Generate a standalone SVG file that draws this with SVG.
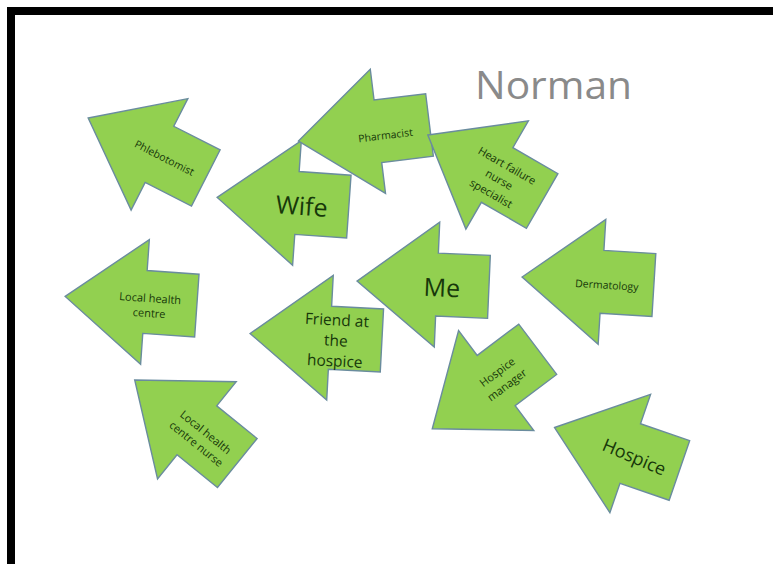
<svg xmlns="http://www.w3.org/2000/svg" xmlns:xlink="http://www.w3.org/1999/xlink" width="773" height="564" viewBox="0 0 773 564">
<style>
.arr{fill:#92d050;stroke:#6a8c9e;stroke-width:1.4;stroke-linejoin:miter}
.t{font-family:"Open Sans","Noto Sans","Liberation Sans",sans-serif;fill:#17380a;text-anchor:middle}
.s{font-size:10.5px}
.title{font-family:"Open Sans","Noto Sans","Liberation Sans",sans-serif;fill:#8a8a8a;font-size:38px}
</style>
<defs>
<path id="arrow" d="M -66 0 L 14 -62.5 L 14 -31.5 L 66 -31.5 L 66 31.5 L 14 31.5 L 14 62.5 Z"/>
</defs>
<rect x="0" y="0" width="773" height="564" fill="#ffffff"/>
<rect x="11" y="11" width="800" height="600" fill="none" stroke="#000000" stroke-width="8"/>
<text class="title" x="475" y="99" textLength="157" lengthAdjust="spacingAndGlyphs">Norman</text>
<g id="connectors"></g>
<g id="phlebotomist" transform="translate(147,148) rotate(27)">
<use xlink:href="#arrow" class="arr"/>
<text class="t s" x="20" y="1" dy="0.35em">Phlebotomist</text>
</g>
<g id="wife" transform="translate(283,202) rotate(4)">
<use xlink:href="#arrow" class="arr"/>
<text class="t" x="19" y="3" dy="0.35em" font-size="25">Wife</text>
</g>
<g id="pharmacist" transform="translate(364,133) rotate(-7)">
<use xlink:href="#arrow" class="arr"/>
<text class="t s" x="21" y="5" dy="0.35em">Pharmacist</text>
</g>
<g id="heart-failure-nurse-specialist" transform="translate(485,168) rotate(30)">
<use xlink:href="#arrow" class="arr"/>
<text class="t" font-size="11" x="18" y="-13" dy="0.35em">Heart failure</text>
<text class="t" font-size="11" x="18" y="3" dy="0.35em">nurse</text>
<text class="t" font-size="11" x="18" y="19" dy="0.35em">specialist</text>
</g>
<g id="local-health-centre" transform="translate(131,301) rotate(4)">
<use xlink:href="#arrow" class="arr"/>
<text class="t" font-size="11" x="19" y="-4" dy="0.35em">Local health</text>
<text class="t" font-size="11" x="19" y="11" dy="0.35em">centre</text>
</g>
<g id="friend-at-the-hospice" transform="translate(316,337) rotate(3)">
<use xlink:href="#arrow" class="arr"/>
<text class="t" font-size="15.5" x="20" y="-18" dy="0.35em">Friend at</text>
<text class="t" font-size="15.5" x="20" y="2.5" dy="0.35em">the</text>
<text class="t" font-size="15.5" x="20" y="23" dy="0.35em">hospice</text>
</g>
<g id="me" transform="translate(423,284) rotate(2.5)">
<use xlink:href="#arrow" class="arr"/>
<text class="t" x="19" y="3" dy="0.35em" font-size="25">Me</text>
</g>
<g id="dermatology" transform="translate(588,281) rotate(3.5)">
<use xlink:href="#arrow" class="arr"/>
<text class="t s" x="19" y="3" dy="0.35em">Dermatology</text>
</g>
<g id="local-health-centre-nurse" transform="translate(186,421.5) rotate(39)">
<use xlink:href="#arrow" class="arr"/>
<text class="t" font-size="11" x="22" y="-4" dy="0.35em">Local health</text>
<text class="t" font-size="11" x="22" y="11" dy="0.35em">centre nurse</text>
</g>
<g id="hospice-manager" transform="translate(485,389) rotate(-37)">
<use xlink:href="#arrow" class="arr"/>
<text class="t" font-size="11" x="20" y="-6" dy="0.35em">Hospice</text>
<text class="t" font-size="11" x="20" y="10" dy="0.35em">manager</text>
</g>
<g id="hospice" transform="translate(617,449) rotate(19)">
<use xlink:href="#arrow" class="arr"/>
<text class="t" font-size="18" x="19" y="2" dy="0.35em" transform="rotate(4 19 2)">Hospice</text>
</g>
</svg>
